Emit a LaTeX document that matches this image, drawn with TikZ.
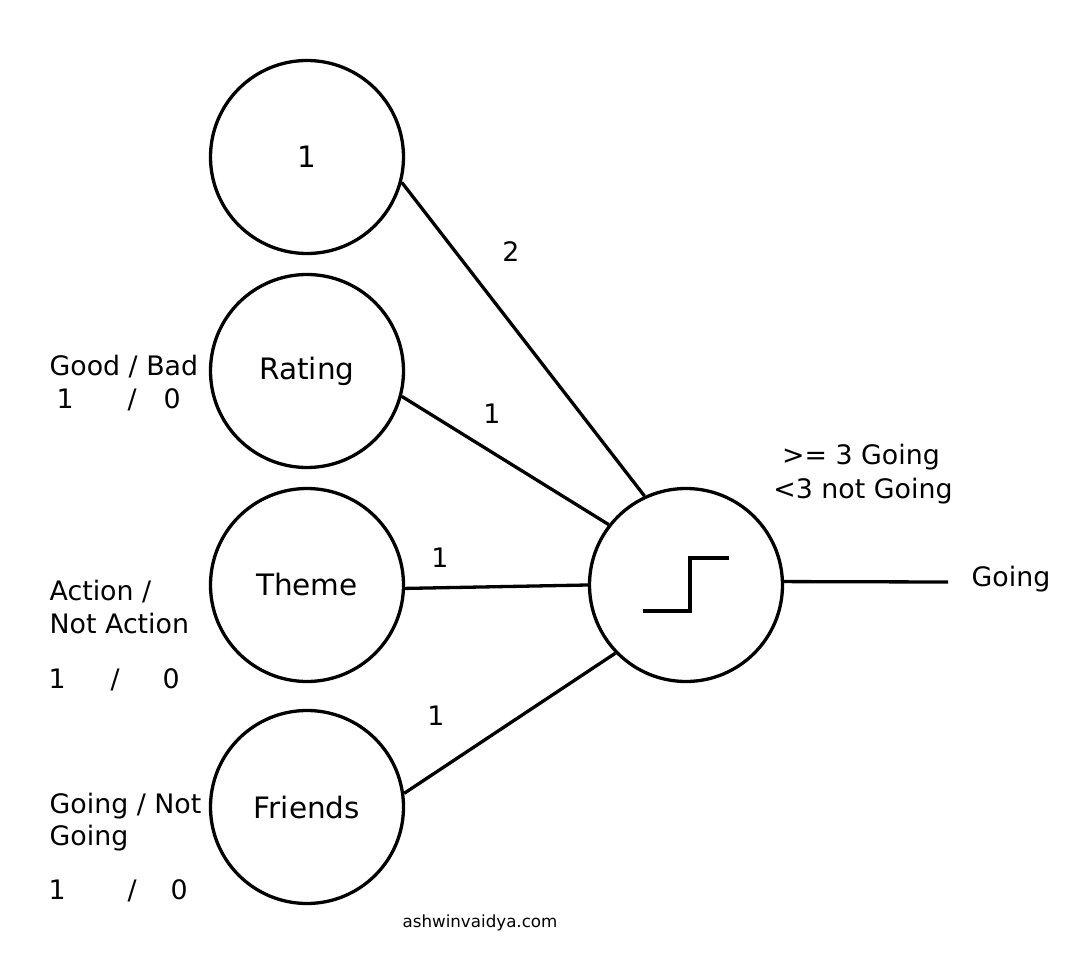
\documentclass[tikz,border=0pt]{standalone}
\usepackage{fontspec}
\setmainfont{DejaVu Sans}
\usetikzlibrary{positioning}

\begin{document}
\begin{tikzpicture}[x=1pt, y=-1pt, line width=3.3pt,
  neuron/.style={draw, circle, minimum size=193pt, inner sep=0pt, font=\fontsize{29.5}{35}\selectfont},
  lbl/.style={inner sep=0pt, font=\fontsize{26.8}{32}\selectfont}]
  \useasboundingbox (0,0) rectangle (1080,960);
  % input units
  \node[neuron] (bias) at (307,157) {1};
  \node[neuron] (rating) at (307,371) {Rating};
  \node[neuron] (theme) at (307,585) {Theme};
  \node[neuron] (friends) at (307,807) {Friends};
  % threshold unit
  \node[neuron] (act) at (686,585) {};
  \draw ([shift={(-43,26)}]act.center) -- ++(47,0) -- ++(0,-53) -- ++(39,0);
  \draw (bias.-15) -- (act.115);
  \draw (rating.-15) -- (act.142);
  \draw (theme.-2) -- (act.180);
  \draw (friends.8) -- (act.224);
  \coordinate (goal) at (948,582);
  \draw (act.2) -- (goal);
  % weights
  \node[lbl] (w0) at (511,252) {2};
  \node[lbl] (w1) at (492,414) {1};
  \node[lbl] (w2) at (440,558) {1};
  \node[lbl] (w3) at (436,716) {1};
  % output side
  \node[lbl, anchor=base] (thr1) at (861,464) {>= 3 Going};
  \node[lbl, anchor=base] (thr2) at (863,498) {<3 not Going};
  \node[lbl, anchor=west] (going) at (970,579) {Going};
  % input values
  \node[lbl, anchor=base west] (rl1) at (48,375) {Good / Bad};
  \node[lbl, anchor=base west] (rl2) at (55,408) {1\hspace*{54pt}/\hspace*{27pt}0};
  \node[lbl, anchor=base west] (tl1) at (48,600) {Action /};
  \node[lbl, anchor=base west] (tl2) at (48,633) {Not Action};
  \node[lbl, anchor=base west] (tl3) at (47,688) {1\hspace*{45pt}/\hspace*{43pt}0};
  \node[lbl, anchor=base west] (fl1) at (48,813) {Going / Not};
  \node[lbl, anchor=base west] (fl2) at (48,845) {Going};
  \node[lbl, anchor=base west] (fl3) at (47,899) {1\hspace*{62pt}/\hspace*{34pt}0};
  \node[inner sep=0pt, anchor=base, font=\fontsize{16.7}{20}\selectfont] (site) at (480,927) {ashwinvaidya.com};
\end{tikzpicture}
\end{document}
